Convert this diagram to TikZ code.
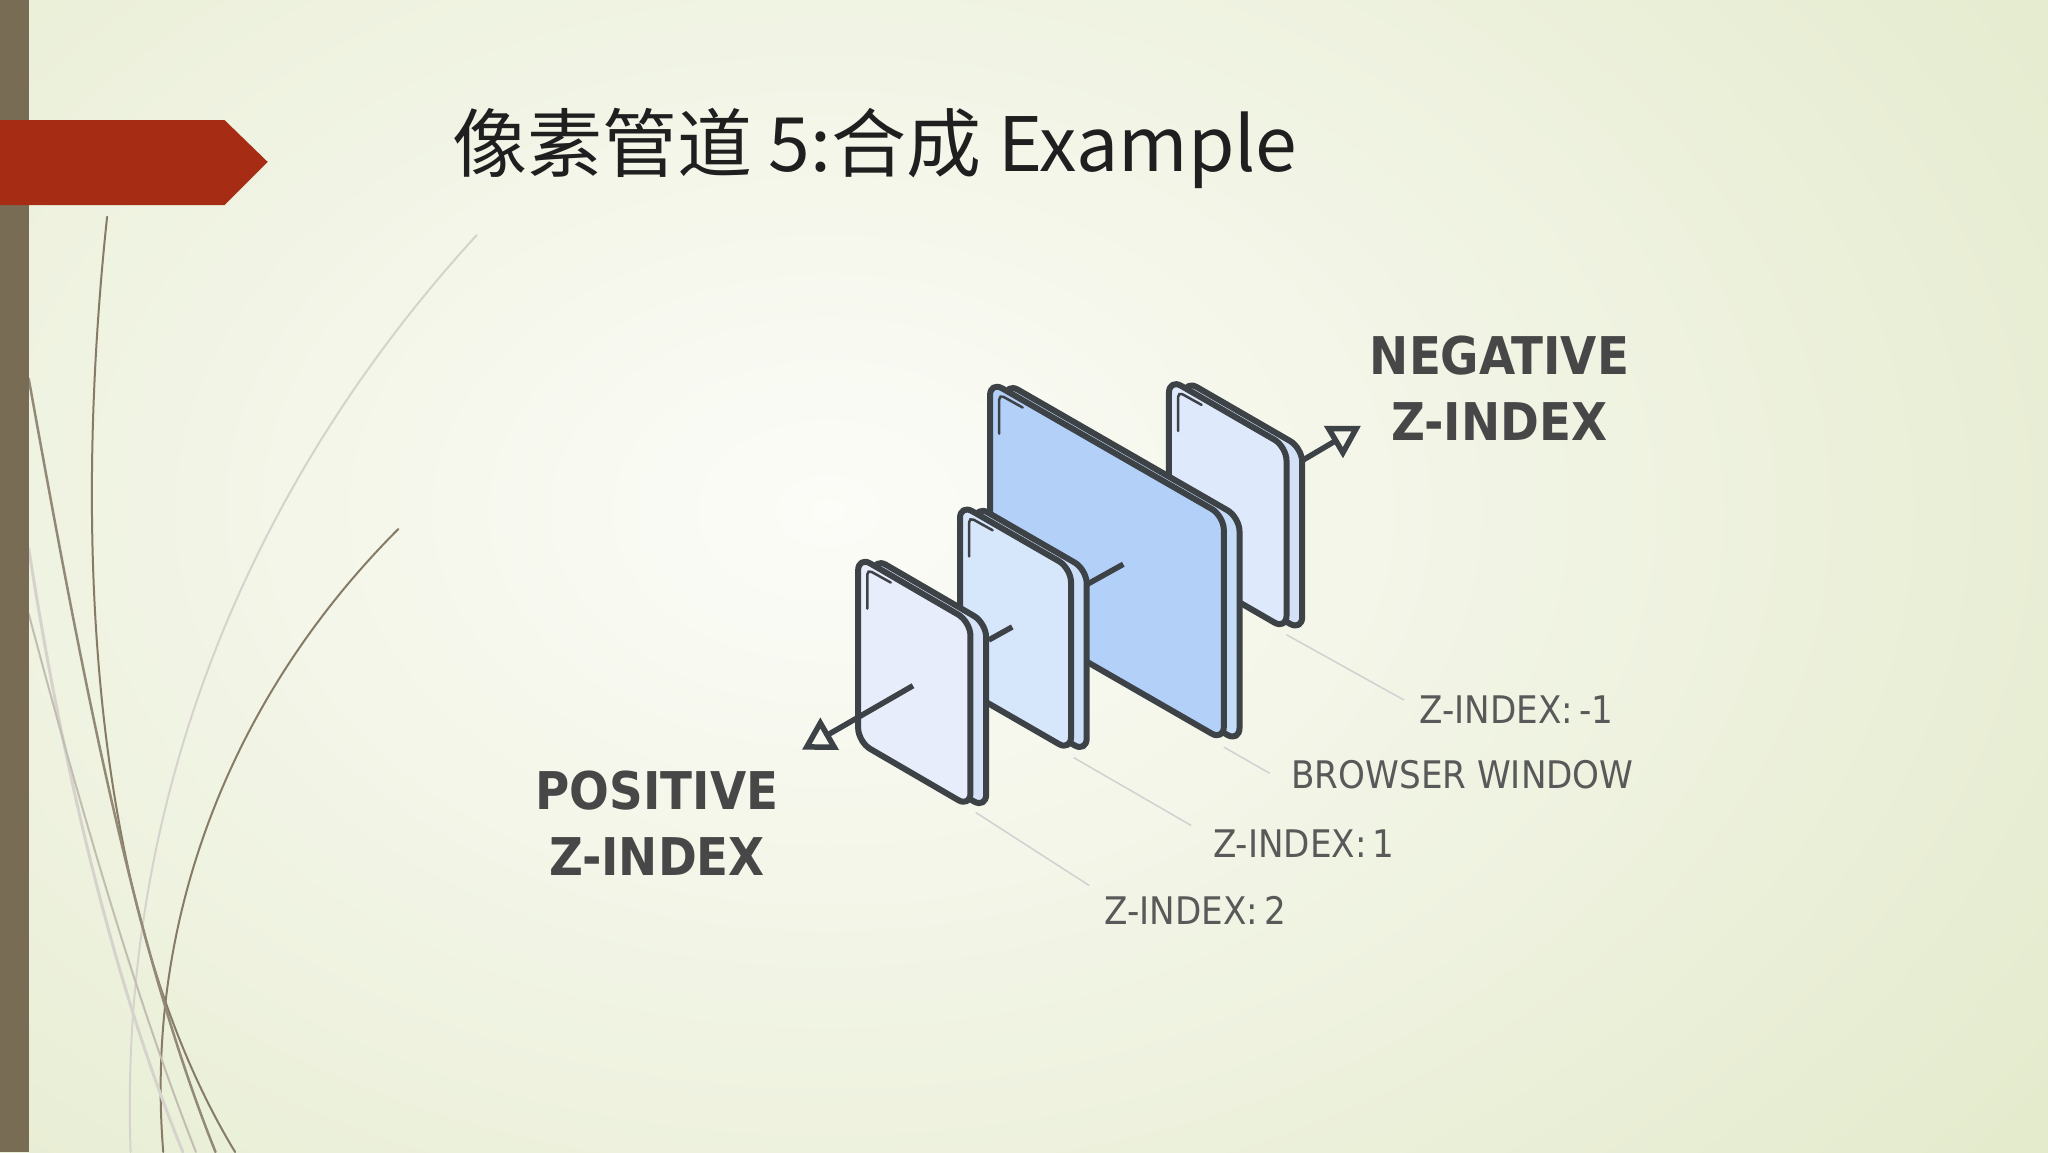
\documentclass[tikz,border=0pt]{standalone}
\usepackage{fontspec}
\setmainfont{Noto Sans CJK SC}
\newfontfamily\dinb{DejaVu Sans Condensed}[BoldFont={DejaVu Sans Condensed Bold}]
\usetikzlibrary{arrows.meta}
\definecolor{edge}{HTML}{3D4247}
\definecolor{olive}{HTML}{786C55}
\definecolor{redarr}{RGB}{166,44,20}
\definecolor{bgout}{RGB}{228,235,205}
\definecolor{bgin}{RGB}{252,252,248}
\definecolor{f4}{RGB}{222,233,251}\definecolor{b4}{RGB}{210,225,248}
\definecolor{f3}{RGB}{178,208,248}\definecolor{b3}{RGB}{196,220,248}
\definecolor{f2}{RGB}{214,230,251}\definecolor{b2}{RGB}{204,222,248}
\definecolor{f1}{RGB}{232,237,251}\definecolor{b1}{RGB}{214,226,247}
\newcommand\mypanel[7]{%
 \draw[edge,line width=6pt,rounded corners=14pt,fill=#7,line join=round] (#1+12,#2+1) -- ++(#3,#4) -- ++(0,#5) -- ++(-#3,-#4) -- cycle;
 \draw[edge,line width=6pt,rounded corners=14pt,fill=#6,line join=round] (#1,#2) -- ++(#3,#4) -- ++(0,#5) -- ++(-#3,-#4) -- cycle;
 \draw[edge,line width=2.5pt,rounded corners=5pt,line cap=round] (#1+7,#2+40) -- (#1+7,#2+10) -- (#1+25,#2+20);
}
\begin{document}
\begin{tikzpicture}[x=1.30612pt,y=-1.30612pt,
  lbl/.style={font=\dinb\fontsize{38}{38}\selectfont, text=black!65},
  big/.style={font=\dinb\bfseries\fontsize{52}{66}\selectfont, text=black!72, align=center},
  lead/.style={black!18,line width=1.5pt},
  ax/.style={edge,line width=5.5pt},
  axa/.style={edge,line width=5.5pt,-{Triangle[open,length=32pt,width=36pt,line width=5.5pt]}}]
\useasboundingbox (0,0) rectangle (1568,882);
\shade[inner color=bgin, outer color=bgout] (-500,-400) rectangle (1768,1182);
% left curves
\begin{scope}[line cap=round]
\draw[olive!90,line width=2pt] (82,166) .. controls (55,420) and (70,700) .. (180,882);
\draw[olive!90,line width=2pt] (305,405) .. controls (180,530) and (110,700) .. (125,882);
\draw[olive!30,line width=2pt] (365,180) .. controls (200,360) and (90,600) .. (100,882);
\draw[olive!80,line width=2.5pt] (22,290) .. controls (60,500) and (100,720) .. (165,882);
\draw[olive!30,line width=3pt] (22,420) .. controls (50,600) and (90,760) .. (140,882);
\draw[olive!45,line width=2pt] (22,470) .. controls (70,650) and (110,780) .. (150,882);
\end{scope}
\fill[olive] (0,0) rectangle (22,882);
\fill[redarr] (0,92) -- (172,92) -- (205,124) -- (172,157) -- (0,157) -- cycle;
\node[anchor=base west,inner sep=0,font=\fontsize{75}{75}\selectfont,text=black!88] (title) at (346,131) {像素管道 5:合成 Example};
% leaders
\coordinate (l4a) at (985,486); \coordinate (l4b) at (1075,536);
\coordinate (l3a) at (937,572); \coordinate (l3b) at (972,592);
\coordinate (l2a) at (822,580); \coordinate (l2b) at (912,632);
\coordinate (l1a) at (747,622); \coordinate (l1b) at (834,678);
\draw[lead] (l4a) -- (l4b); \draw[lead] (l3a) -- (l3b);
\draw[lead] (l2a) -- (l2b); \draw[lead] (l1a) -- (l1b);
% panels back to front
\mypanel{895}{290}{90}{52}{140}{f4}{b4}
\coordinate (a4) at (998,352); \coordinate (t4) at (1042,326);
\draw[axa] (a4) -- (t4);
\mypanel{758}{292}{179}{103}{172}{f3}{b3}
\coordinate (a3a) at (833,447); \coordinate (a3b) at (860,432);
\draw[ax] (a3a) -- (a3b);
\mypanel{735}{386}{85}{49}{140}{f2}{b2}
\coordinate (a2a) at (757,490); \coordinate (a2b) at (775,480);
\draw[ax] (a2a) -- (a2b);
\mypanel{657}{426}{86}{50}{142}{f1}{b1}
\coordinate (a1) at (699,525); \coordinate (t1) at (614,574);
\draw[axa] (a1) -- (t1);
% labels
\node[big] (neg) at (1148,297) {NEGATIVE\\Z-INDEX};
\node[big] (pos) at (503,630) {POSITIVE\\Z-INDEX};
\node[lbl,anchor=west] (zm1) at (1084,543) {Z-INDEX:\,-1};
\node[lbl,anchor=west] (bw) at (986,593) {BROWSER WINDOW};
\node[lbl,anchor=west] (z1) at (926,646) {Z-INDEX:\,1};
\node[lbl,anchor=west] (z2) at (843,697) {Z-INDEX:\,2};
\end{tikzpicture}
\end{document}
